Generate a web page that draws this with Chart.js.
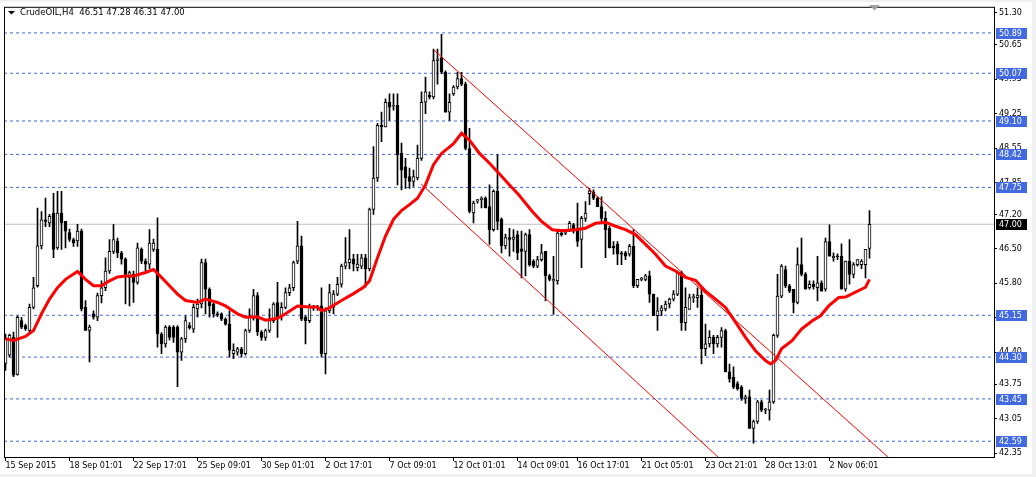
<!DOCTYPE html>
<html>
<head>
<meta charset="utf-8">
<title>CrudeOIL,H4</title>
<script src="https://cdn.jsdelivr.net/npm/chart.js@4.4.1/dist/chart.umd.min.js"></script>
<style>
  html, body { margin: 0; padding: 0; background: #f0f0f0; }
  canvas { display: block; }
</style>
</head>
<body>
<canvas id="chart" width="1036" height="477"></canvas>
<script>
const symbolTitle = 'CrudeOIL,H4  46.51 47.28 46.31 47.00';

// H4 candles, one entry per bar
const open = [
  44.17, 44.34, 44.70, 43.95, 45.04, 44.94, 44.84, 45.31, 45.75, 46.56,
  47.09, 47.03, 47.23, 46.52, 47.23, 47.06, 46.83, 46.69, 46.66, 46.86,
  45.31, 44.84, 45.18, 45.11, 45.55, 45.71, 46.05, 46.45, 46.66, 46.42,
  46.29, 45.92, 45.98, 45.82, 46.49, 46.25, 46.19, 46.49, 46.49, 44.77,
  44.57, 44.91, 44.91, 44.91, 44.40, 44.67, 44.94, 44.87, 45.28, 45.38,
  46.22, 45.68, 45.38, 45.18, 45.18, 45.07, 44.97, 44.37, 44.40, 44.47,
  44.37, 44.84, 45.11, 45.55, 44.81, 44.70, 44.84, 45.04, 45.41, 45.11,
  45.31, 45.61, 45.71, 46.25, 46.56, 45.11, 45.04, 45.31, 45.30, 45.34,
  44.37, 45.24, 45.31, 45.58, 45.78, 46.15, 46.22, 46.29, 46.12, 46.15,
  46.32, 46.09, 47.30, 47.94, 49.01, 48.98, 49.48, 49.40, 49.42, 48.44,
  48.17, 47.97, 47.87, 47.94, 48.34, 49.48, 49.62, 49.59, 50.33, 50.39,
  50.09, 49.28, 49.65, 49.79, 49.96, 49.85, 48.54, 47.23, 47.47, 47.50,
  47.53, 47.36, 46.89, 47.67, 47.10, 46.56, 46.73, 46.69, 46.79, 46.50,
  46.45, 46.79, 46.25, 46.15, 46.28, 46.45, 45.95, 45.85, 45.85, 46.82,
  46.82, 46.86, 46.99, 46.89, 46.69, 47.12, 47.62, 47.66, 47.53, 47.36,
  47.12, 46.92, 46.55, 46.59, 46.42, 46.42, 46.39, 46.55, 45.75, 45.88,
  45.88, 45.95, 45.58, 45.14, 45.24, 45.28, 45.38, 45.48, 45.58, 46.02,
  45.00, 45.27, 45.51, 45.51, 45.56, 44.47, 44.57, 44.70, 44.57, 44.70,
  44.84, 44.00, 43.89, 43.76, 43.69, 43.46, 43.49, 42.85, 42.99, 43.39,
  43.22, 43.22, 43.39, 44.74, 45.54, 46.08, 45.75, 45.68, 45.41, 46.18,
  45.98, 45.71, 45.78, 45.71, 45.81, 45.68, 46.65, 46.32, 46.35, 46.35,
  45.68, 46.25, 45.98, 46.18, 46.18, 46.18, 46.51
];
const high = [
  44.77, 44.77, 44.81, 45.14, 45.11, 44.97, 45.38, 45.92, 47.33, 47.26,
  47.53, 47.20, 47.63, 47.67, 47.67, 47.06, 46.90, 46.72, 47.00, 46.90,
  45.45, 44.95, 45.24, 45.60, 45.85, 46.32, 46.69, 47.00, 46.72, 46.45,
  46.32, 46.05, 46.05, 46.62, 46.52, 46.30, 46.89, 46.70, 47.13, 44.80,
  44.94, 44.94, 44.94, 44.94, 44.70, 45.14, 45.00, 45.38, 45.48, 46.29,
  46.29, 45.71, 45.42, 45.22, 45.20, 45.10, 45.24, 44.57, 44.50, 44.50,
  44.87, 45.28, 45.68, 45.61, 44.84, 44.87, 45.28, 45.41, 45.82, 45.41,
  45.71, 45.78, 46.25, 47.06, 46.76, 45.14, 45.38, 45.35, 45.35, 45.71,
  45.30, 45.78, 45.65, 45.92, 46.19, 46.73, 46.89, 46.39, 46.39, 46.39,
  46.39, 47.33, 48.58, 49.05, 49.28, 49.55, 49.65, 49.65, 49.65, 48.65,
  48.34, 48.14, 48.10, 48.61, 49.69, 49.99, 49.69, 50.56, 50.56, 50.86,
  50.12, 49.65, 49.82, 50.09, 50.09, 49.89, 48.95, 47.47, 47.50, 47.56,
  47.56, 47.80, 47.70, 48.41, 47.13, 46.80, 46.92, 46.89, 46.86, 46.86,
  46.82, 46.89, 46.28, 46.35, 46.59, 46.45, 45.98, 46.35, 46.89, 46.89,
  46.89, 47.06, 47.02, 47.43, 47.16, 47.46, 47.73, 47.70, 47.56, 47.56,
  47.26, 46.96, 46.65, 46.65, 46.45, 46.45, 46.59, 46.89, 45.88, 45.92,
  45.98, 46.05, 45.58, 45.51, 45.35, 45.44, 45.50, 45.65, 46.05, 46.05,
  45.71, 45.58, 45.58, 45.71, 45.71, 44.97, 44.84, 44.74, 44.74, 44.90,
  44.87, 44.16, 44.10, 43.80, 43.72, 43.53, 43.63, 43.02, 43.42, 43.42,
  43.26, 43.63, 44.77, 45.98, 46.18, 46.15, 45.78, 45.68, 46.52, 46.72,
  46.02, 45.85, 45.85, 46.35, 45.85, 46.72, 46.99, 46.42, 46.40, 46.60,
  46.25, 46.69, 46.22, 46.28, 46.28, 46.49, 47.28
];
const low = [
  44.03, 44.30, 43.90, 43.93, 44.88, 44.84, 44.80, 45.28, 45.72, 46.50,
  46.95, 46.95, 46.32, 46.49, 46.49, 46.52, 46.65, 46.55, 46.55, 45.24,
  44.84, 44.20, 45.07, 45.04, 45.40, 45.65, 46.00, 46.40, 46.32, 46.19,
  45.38, 45.34, 45.41, 45.78, 46.20, 46.05, 46.10, 46.45, 44.50, 44.37,
  44.50, 44.65, 44.60, 43.70, 44.23, 44.60, 44.87, 44.80, 45.11, 45.30,
  45.18, 45.11, 45.11, 45.12, 45.04, 44.95, 44.30, 44.27, 44.34, 44.30,
  44.34, 44.80, 45.05, 44.74, 44.64, 44.64, 44.80, 45.00, 44.70, 45.05,
  45.28, 45.55, 45.65, 46.20, 45.04, 44.57, 45.00, 45.25, 45.25, 44.30,
  43.96, 45.20, 45.18, 45.55, 45.72, 46.09, 46.09, 46.05, 46.05, 46.10,
  45.72, 46.05, 47.20, 47.87, 48.68, 48.98, 49.11, 49.32, 47.80, 47.70,
  47.73, 47.73, 47.77, 47.90, 48.30, 49.25, 49.55, 49.55, 49.85, 50.06,
  49.28, 49.11, 49.62, 49.75, 49.82, 48.51, 47.23, 47.03, 47.43, 47.33,
  47.33, 46.59, 46.86, 46.89, 46.42, 46.50, 46.35, 46.45, 46.28, 45.91,
  45.95, 46.15, 46.12, 46.12, 46.25, 45.44, 45.85, 45.17, 45.78, 46.76,
  46.79, 46.85, 46.82, 46.55, 46.12, 47.06, 47.40, 47.50, 47.36, 47.02,
  46.32, 46.52, 46.39, 46.18, 46.18, 46.28, 46.35, 45.71, 45.71, 45.85,
  45.85, 45.41, 45.14, 44.84, 45.14, 45.24, 45.30, 45.44, 45.55, 44.84,
  44.84, 45.27, 45.41, 45.31, 44.16, 44.33, 44.50, 44.37, 44.50, 44.50,
  44.00, 43.79, 43.66, 43.63, 43.42, 43.36, 42.85, 42.55, 42.95, 43.19,
  43.15, 43.02, 43.36, 44.70, 45.51, 45.71, 45.61, 45.20, 45.38, 45.95,
  45.68, 45.68, 45.68, 45.44, 45.64, 45.64, 46.35, 46.25, 46.28, 45.68,
  45.64, 45.78, 45.91, 46.15, 46.10, 45.91, 46.31
];
const close = [
  44.67, 44.74, 43.93, 45.11, 44.91, 44.88, 45.31, 45.71, 46.56, 47.09,
  47.06, 47.16, 46.49, 47.23, 47.03, 46.86, 46.69, 46.62, 46.86, 45.28,
  44.84, 44.91, 45.11, 45.55, 45.71, 46.05, 46.45, 46.69, 46.42, 46.29,
  45.98, 46.02, 45.82, 46.52, 46.25, 46.19, 46.62, 46.62, 44.77, 44.57,
  44.91, 44.70, 44.70, 44.40, 44.67, 45.04, 44.90, 45.31, 45.38, 46.22,
  45.68, 45.34, 45.18, 45.16, 45.07, 44.97, 44.44, 44.44, 44.47, 44.37,
  44.84, 45.11, 45.55, 44.81, 44.70, 44.84, 45.04, 45.38, 45.11, 45.31,
  45.61, 45.71, 46.22, 46.56, 45.07, 45.04, 45.31, 45.30, 45.31, 44.37,
  45.24, 45.61, 45.58, 45.78, 46.15, 46.22, 46.29, 46.19, 46.19, 46.32,
  46.09, 47.30, 47.94, 49.01, 48.98, 49.48, 49.38, 49.42, 48.41, 48.10,
  47.94, 47.87, 47.97, 48.34, 49.48, 49.69, 49.59, 50.33, 50.36, 50.09,
  49.28, 49.48, 49.79, 49.96, 49.85, 48.54, 47.26, 47.43, 47.50, 47.53,
  47.33, 46.89, 47.67, 47.06, 46.56, 46.73, 46.69, 46.74, 46.42, 46.45,
  46.79, 46.18, 46.15, 46.28, 46.42, 45.95, 45.88, 45.88, 46.82, 46.79,
  46.86, 47.02, 46.86, 46.65, 47.12, 47.23, 47.68, 47.53, 47.36, 47.12,
  46.89, 46.52, 46.52, 46.39, 46.39, 46.35, 46.55, 45.75, 45.88, 45.90,
  45.95, 45.58, 45.14, 45.24, 45.30, 45.38, 45.48, 45.58, 46.02, 45.00,
  45.31, 45.51, 45.53, 45.56, 44.47, 44.57, 44.70, 44.57, 44.70, 44.84,
  44.00, 43.86, 43.69, 43.66, 43.46, 43.49, 42.85, 42.99, 43.39, 43.22,
  43.24, 43.39, 44.74, 45.54, 46.15, 45.75, 45.64, 45.41, 46.18, 45.98,
  45.68, 45.78, 45.73, 45.81, 45.64, 46.65, 46.35, 46.35, 46.34, 45.68,
  46.25, 45.98, 46.18, 46.28, 46.25, 46.49, 47.00
];

// moving average (bar position, price)
const maBars = [
  0, 2, 5, 7, 9, 11, 13, 15, 18, 20, 22, 24, 26, 28, 30, 32, 35, 37, 39, 41,
  43, 45, 48, 50, 53, 55, 58, 60, 63, 65, 68, 70, 73, 76, 78, 79, 81, 84, 87, 89.5,
  91, 93, 95, 97, 99, 101, 103, 105, 107, 109, 112, 114, 116, 118.5, 121, 123.75, 126, 128.3, 131.7, 134,
  136.7, 139, 142.5, 145, 147.5, 150, 152.5, 155, 157.5, 160, 162.5, 165, 167.5, 170, 172.5, 175, 177.5, 180, 182.5, 185,
  187.5, 190, 191.25, 192.5, 194, 196.7, 199, 201.7, 203.75, 205.8, 208.3, 210, 212.5, 215, 216
];
const maValues = [
  44.67, 44.64, 44.72, 44.84, 45.18, 45.48, 45.71, 45.88, 46.04, 45.88, 45.75, 45.75, 45.85, 45.93, 45.95, 45.95, 46.02, 46.08, 45.92, 45.75,
  45.58, 45.45, 45.41, 45.48, 45.41, 45.34, 45.18, 45.11, 45.12, 45.05, 45.09, 45.18, 45.34, 45.32, 45.32, 45.24, 45.30, 45.45, 45.59, 45.72,
  45.85, 46.32, 46.76, 47.10, 47.28, 47.40, 47.53, 47.80, 48.21, 48.44, 48.64, 48.85, 48.71, 48.44, 48.24, 48.00, 47.80, 47.60, 47.26, 47.06,
  46.89, 46.87, 46.89, 46.92, 47.02, 47.04, 46.96, 46.89, 46.79, 46.59, 46.39, 46.15, 46.05, 45.92, 45.86, 45.64, 45.48, 45.31, 45.01, 44.70,
  44.43, 44.23, 44.16, 44.23, 44.47, 44.64, 44.87, 45.04, 45.14, 45.34, 45.51, 45.52, 45.62, 45.72, 45.88
];

const levelPrices = [50.89, 50.07, 49.10, 48.42, 47.75, 45.15, 44.30, 43.45, 42.59];
const bidPrice = 47.00;

// descending channel, two ends of each line
const channelUpperBars = [107, 220.6];
const channelUpperPrices = [50.55, 42.27];
const channelLowerBars = [103.9, 178.1];
const channelLowerPrices = [47.82, 42.27];

const yTickValues = [51.30, 50.65, 49.95, 49.25, 48.55, 47.85, 47.20, 46.50, 45.80, 45.10, 44.40, 43.75, 43.05, 42.35];
const xTickBars = [0, 16, 32, 48, 64, 80, 96, 112, 128, 143, 159, 175, 190, 206];
const xTickLabels = ['15 Sep 2015', '18 Sep 01:01', '22 Sep 17:01', '25 Sep 09:01', '30 Sep 01:01', '2 Oct 17:01',
  '7 Oct 09:01', '12 Oct 01:01', '14 Oct 09:01', '16 Oct 17:01', '21 Oct 05:01', '23 Oct 21:01', '28 Oct 13:01', '2 Nov 06:01'];

const FONT = 'DejaVu Sans';
const LEVEL_BLUE = '#4169e1';
const X_MIN = -0.375, X_MAX = 247.125;

const wicks = open.map((o, i) => ({ x: i, y: [low[i], high[i]] }));
const bodies = open.map((o, i) => ({ x: i, y: [o, close[i]] }));
const maLine = maBars.map((b, i) => ({ x: b, y: maValues[i] }));

const hLine = (price, color, dash) => ({
    type: 'line',
    data: [{ x: X_MIN, y: price }, { x: X_MAX, y: price }],
    borderColor: color,
    borderWidth: 1,
    borderDash: dash,
    pointRadius: 0,
    order: 10
});

const datasets = [
    ...levelPrices.map(p => hLine(p, LEVEL_BLUE, [3, 3])),
    hLine(bidPrice, '#c0c0c0', []),
    {
        type: 'bar',
        data: wicks,
        backgroundColor: '#000',
        barThickness: 1,
        grouped: false,
        order: 4
    },
    {
        type: 'bar',
        data: bodies,
        backgroundColor: ctx => close[ctx.dataIndex] >= open[ctx.dataIndex] ? '#fff' : '#000',
        borderColor: '#000',
        borderWidth: 1,
        borderSkipped: false,
        barThickness: 3,
        minBarLength: 1,
        grouped: false,
        order: 3
    },
    {
        type: 'line',
        data: maLine,
        borderColor: '#ff0000',
        borderWidth: 3,
        pointRadius: 0,
        tension: 0,
        order: 1
    },
    {
        type: 'line',
        data: channelUpperBars.map((b, i) => ({ x: b, y: channelUpperPrices[i] })),
        borderColor: '#ff0000',
        borderWidth: 1,
        pointRadius: 0,
        order: 0
    },
    {
        type: 'line',
        data: channelLowerBars.map((b, i) => ({ x: b, y: channelLowerPrices[i] })),
        borderColor: '#ff0000',
        borderWidth: 1,
        pointRadius: 0,
        order: 0
    }
];

// window background, frame, title, price labels
const terminalFrame = {
    id: 'terminalFrame',
    beforeDraw(chart) {
        const c = chart.ctx;
        c.save();
        c.fillStyle = '#f0f0f0';
        c.fillRect(0, 0, chart.width, chart.height);
        c.fillStyle = '#ffffff';
        c.fillRect(0, 2, 1032, 472);
        c.restore();
    },
    afterDraw(chart) {
        const c = chart.ctx;
        const a = chart.chartArea;
        const y = chart.scales.y;
        c.save();
        c.strokeStyle = '#000';
        c.lineWidth = 1;
        c.strokeRect(a.left + 0.5, a.top + 0.5, a.right - a.left, a.bottom - a.top);

        // shift marker
        c.fillStyle = '#a0a0a0';
        c.beginPath();
        c.moveTo(869, 5); c.lineTo(880, 5); c.lineTo(874.5, 10.5);
        c.closePath(); c.fill();

        // title
        c.fillStyle = '#000';
        c.beginPath();
        c.moveTo(8, 11); c.lineTo(15, 11); c.lineTo(11.5, 14.5);
        c.closePath(); c.fill();
        c.font = '8.5px "' + FONT + '"';
        c.textBaseline = 'middle';
        c.textAlign = 'left';
        c.fillText(symbolTitle, 20, 13);

        // price labels on the axis
        c.font = '8px "' + FONT + '"';
        const tag = (price, bg) => {
            const py = Math.round(y.getPixelForValue(price));
            c.fillStyle = bg;
            c.fillRect(996, py - 5, 31, 11);
            c.fillStyle = '#fff';
            c.fillText(price.toFixed(2), 999, py + 0.5);
        };
        levelPrices.forEach(p => tag(p, LEVEL_BLUE));
        tag(bidPrice, '#000');
        c.restore();
    }
};

new Chart(document.getElementById('chart'), {
    type: 'bar',
    data: { datasets },
    plugins: [terminalFrame],
    options: {
        responsive: false,
        animation: false,
        devicePixelRatio: 1,
        layout: { padding: { left: 4, top: 4, right: 4, bottom: 3 } },
        plugins: { legend: { display: false }, tooltip: { enabled: false } },
        scales: {
            x: {
                type: 'linear',
                min: X_MIN,
                max: X_MAX,
                offset: false,
                afterFit: s => { s.height = 17; },
                afterBuildTicks: s => { s.ticks = xTickBars.map(v => ({ value: v })); },
                grid: { drawOnChartArea: false, drawTicks: true, tickLength: 4, color: '#000', offset: false },
                border: { display: false },
                ticks: {
                    autoSkip: false,
                    maxRotation: 0,
                    align: 'start',
                    padding: 0,
                    color: '#000',
                    font: { family: FONT, size: 8 },
                    callback: (v, i) => xTickLabels[i]
                }
            },
            y: {
                type: 'linear',
                position: 'right',
                min: 42.269,
                max: 51.421,
                beginAtZero: false,
                afterFit: s => { s.width = 38; },
                afterBuildTicks: s => { s.ticks = yTickValues.map(v => ({ value: v })); },
                grid: { drawOnChartArea: false, drawTicks: true, tickLength: 3, color: '#000' },
                border: { display: false },
                ticks: {
                    padding: 2,
                    color: '#000',
                    font: { family: FONT, size: 8 },
                    callback: v => v.toFixed(2)
                }
            }
        }
    }
});
</script>
</body>
</html>
